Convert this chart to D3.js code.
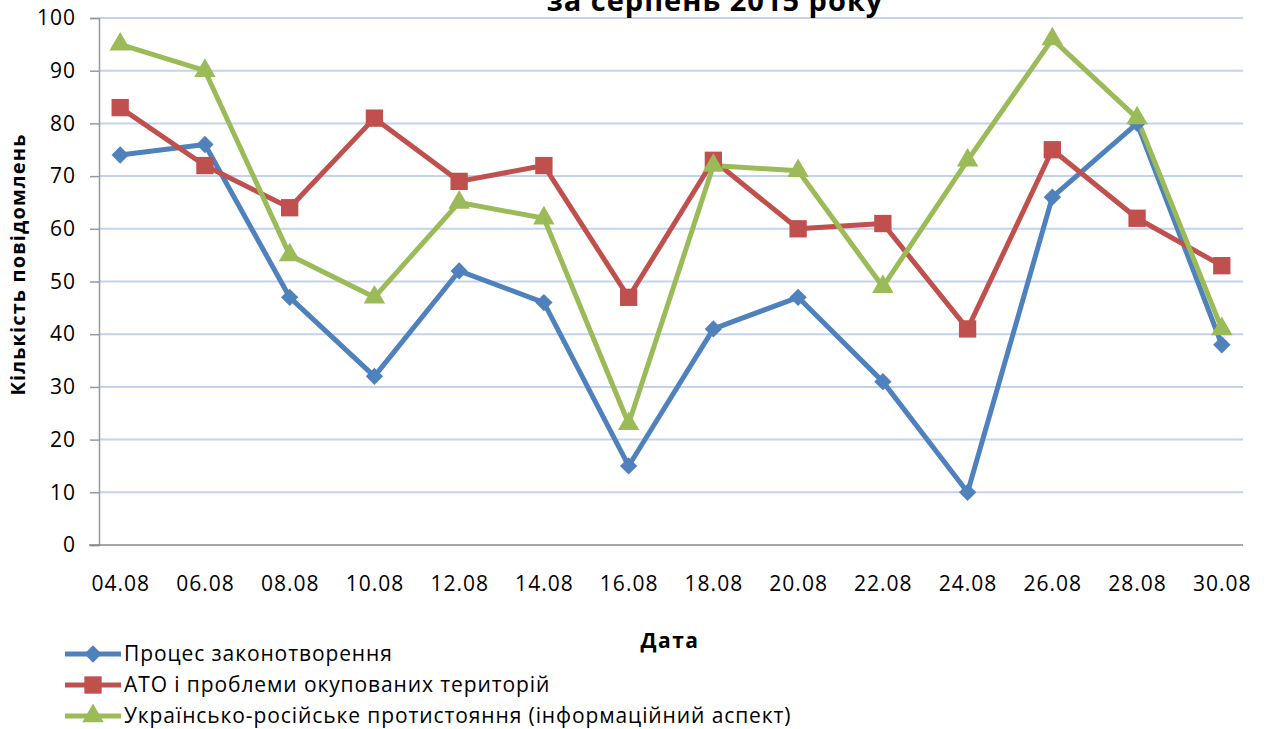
<!DOCTYPE html>
<html>
<head>
<meta charset="utf-8">
<script src="https://cdn.jsdelivr.net/npm/d3@7"></script>
<style>
  body { margin: 0; background: #fff; }
  text { font-family: "Open Sans", Lato, sans-serif; fill: #000; }
</style>
</head>
<body>
<div id="chart"></div>
<script>
// data
const dates = ["04.08", "06.08", "08.08", "10.08", "12.08", "14.08", "16.08",
               "18.08", "20.08", "22.08", "24.08", "26.08", "28.08", "30.08"];
const lawmaking = [74, 76, 47, 32, 52, 46, 15, 41, 47, 31, 10, 66, 80, 38];
const atoTerritories = [83, 72, 64, 81, 69, 72, 47, 73, 60, 61, 41, 75, 62, 53];
const uaRuConflict = [95, 90, 55, 47, 65, 62, 23, 72, 71, 49, 73, 96, 81, 41];
const yTicks = [0, 10, 20, 30, 40, 50, 60, 70, 80, 90, 100];

const seriesNames = [
  "Процес законотворення",
  "АТО і проблеми окупованих територій",
  "Українсько-російське протистояння (інформаційний аспект)"
];
const seriesColors = ["#4F81BD", "#C0504D", "#9BBB59"];
// diamond = square turned 45 degrees, like the Excel marker
const seriesShapes = [d3.symbolSquare, d3.symbolSquare, d3.symbolTriangle];
const seriesRotate = [45, 0, 0];
const seriesSizes = [150, 300, 200];

const series = [lawmaking, atoTerritories, uaRuConflict].map((vals, i) => ({
  name: seriesNames[i], color: seriesColors[i], shape: seriesShapes[i],
  rot: seriesRotate[i], size: seriesSizes[i], values: vals
}));

const W = 1266, H = 729;
const plot = { left: 99, right: 1243, top: 18, bottom: 545 };

const svg = d3.select("#chart").append("svg")
    .attr("width", W).attr("height", H);

const x = d3.scalePoint()
    .domain(dates)
    .range([plot.left, plot.right])
    .padding(0.25);

const y = d3.scaleLinear()
    .domain([0, 100])
    .range([plot.bottom, plot.top]);

// gridlines
svg.append("g")
  .selectAll("line")
  .data(yTicks.filter(t => t > 0))
  .join("line")
    .attr("x1", plot.left).attr("x2", plot.right)
    .attr("y1", d => y(d)).attr("y2", d => y(d))
    .attr("stroke", "#c3d3ee")
    .attr("stroke-width", 2);

// y axis
const yAxis = svg.append("g")
    .attr("transform", "translate(" + plot.left + ",0)")
    .call(d3.axisLeft(y).tickValues(yTicks).tickSize(9).tickPadding(14));
yAxis.select(".domain").attr("stroke", "#999").attr("stroke-width", 1.5);
yAxis.selectAll(".tick line").attr("stroke", "#999").attr("stroke-width", 1.5);
yAxis.selectAll("text")
    .style("font-size", "21px")
    .style("font-family", "'Open Sans', sans-serif")
    .style("letter-spacing", "1px")
    .attr("fill", "#000");

// x axis
const xAxis = svg.append("g")
    .attr("transform", "translate(0," + plot.bottom + ")")
    .call(d3.axisBottom(x).tickSize(0).tickPadding(31));
xAxis.select(".domain")
    .attr("d", "M" + (plot.left - 10) + ",0H" + plot.right)
    .attr("stroke", "#888").attr("stroke-width", 1.5);
xAxis.selectAll("text")
    .style("font-size", "21px")
    .style("font-family", "'Open Sans', sans-serif")
    .style("letter-spacing", "1px")
    .attr("fill", "#000");

// lines + markers
const line = d3.line()
    .x((d, i) => x(dates[i]))
    .y(d => y(d));

series.forEach(s => {
  svg.append("path")
      .datum(s.values)
      .attr("fill", "none")
      .attr("stroke", s.color)
      .attr("stroke-width", 5)
      .attr("stroke-linejoin", "round")
      .attr("d", line);
});

series.forEach(s => {
  svg.append("g")
    .selectAll("path")
    .data(s.values)
    .join("path")
      .attr("transform", (d, i) => "translate(" + x(dates[i]) + "," + y(d) + ") rotate(" + s.rot + ")")
      .attr("d", d3.symbol().type(s.shape).size(s.size))
      .attr("fill", s.color);
});

// titles
svg.append("text")
    .attr("x", 715).attr("y", 11)
    .attr("text-anchor", "middle")
    .style("font-size", "29px")
    .style("font-weight", "bold")
    .style("letter-spacing", "1px")
    .text("за серпень 2015 року");

svg.append("text")
    .attr("transform", "translate(25," + ((plot.top + plot.bottom) / 2 - 17) + ") rotate(-90)")
    .attr("text-anchor", "middle")
    .style("font-size", "20px")
    .style("font-weight", "bold")
    .style("letter-spacing", "1.1px")
    .text("Кількість повідомлень");

svg.append("text")
    .attr("x", 670).attr("y", 648)
    .attr("text-anchor", "middle")
    .style("font-size", "21px")
    .style("font-weight", "bold")
    .style("letter-spacing", "1.5px")
    .text("Дата");

// legend
const legend = svg.append("g")
  .selectAll("g")
  .data(series)
  .join("g")
    .attr("transform", (d, i) => "translate(65," + (654 + i * 31) + ")");

legend.append("line")
    .attr("x1", 0).attr("x2", 56)
    .attr("stroke", d => d.color)
    .attr("stroke-width", 5);

legend.append("path")
    .attr("transform", d => "translate(28,0) rotate(" + d.rot + ")")
    .attr("d", d => d3.symbol().type(d.shape).size(d.size)())
    .attr("fill", d => d.color);

legend.append("text")
    .attr("x", 59).attr("dy", "0.35em")
    .style("font-size", "21px")
    .style("letter-spacing", "0.9px")
    .text(d => d.name);
</script>
</body>
</html>
